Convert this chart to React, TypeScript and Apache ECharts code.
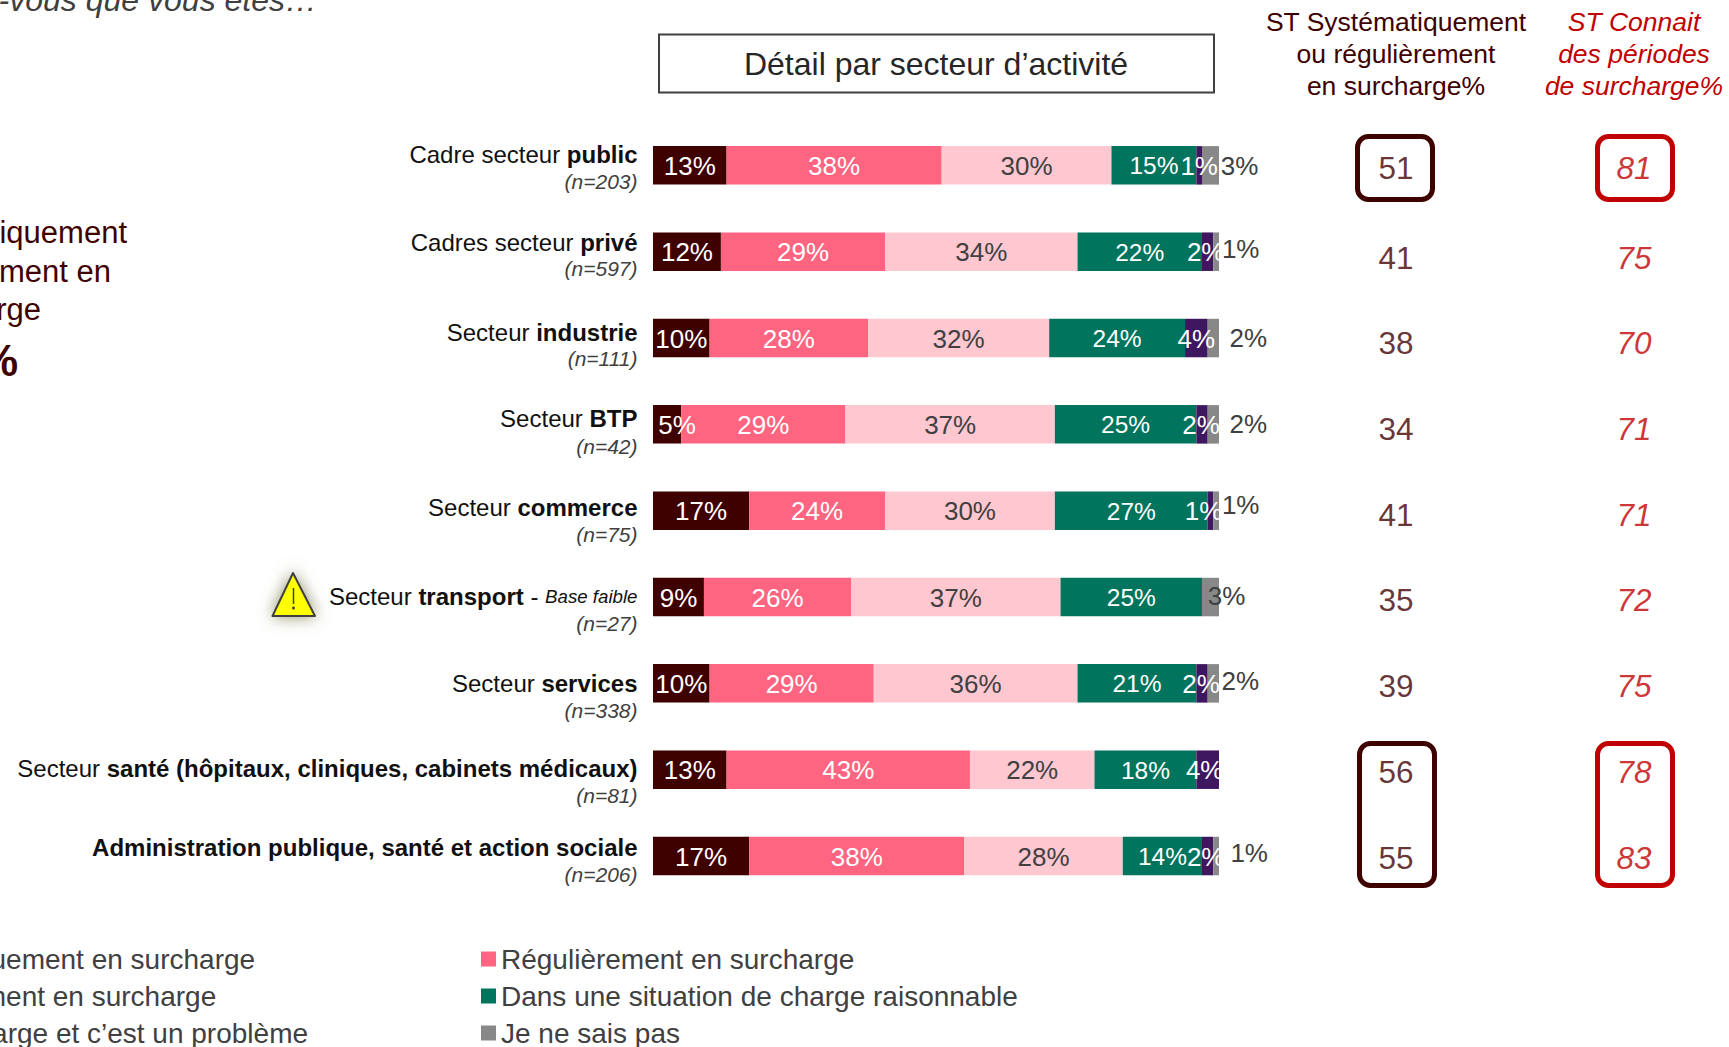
import React, { useEffect, useRef } from "react";
import * as echarts from "echarts";

const FONT = "'Liberation Sans', Arial, sans-serif";

const categoryLeads = ["Cadre secteur ", "Cadres secteur ", "Secteur ", "Secteur ", "Secteur ", "Secteur ", "Secteur ", "Secteur ", ""];
const categoryBolds = ["public", "privé", "industrie", "BTP", "commerce", "transport", "services", "santé (hôpitaux, cliniques, cabinets médicaux)", "Administration publique, santé et action sociale"];
const categoryBases = ["(n=203)", "(n=597)", "(n=111)", "(n=42)", "(n=75)", "(n=27)", "(n=338)", "(n=81)", "(n=206)"];
const categories = categoryBolds.map((b, i) => categoryLeads[i] + b);

const seriesNames = [
  "Systématiquement en surcharge",
  "Régulièrement en surcharge",
  "Ponctuellement en surcharge",
  "Dans une situation de charge raisonnable",
  "En sous-charge et c’est un problème",
  "Je ne sais pas",
];
const systematique = [13, 12, 10, 5, 17, 9, 10, 13, 17];
const regulier = [38, 29, 28, 29, 24, 26, 29, 43, 38];
const ponctuel = [30, 34, 32, 37, 30, 37, 36, 22, 28];
const raisonnable = [15, 22, 24, 25, 27, 25, 21, 18, 14];
const sousCharge = [1, 2, 4, 2, 1, null, 2, 4, 2];
const neSaisPas = [3, 1, 2, 2, 1, 3, 2, null, 1];

const headerSurcharge = ["ST Systématiquement", "ou régulièrement", "en surcharge%"];
const headerPeriodes = ["ST Connait", "des périodes", "de surcharge%"];
const stSurcharge = [51, 41, 38, 34, 41, 35, 39, 56, 55];
const stPeriodes = [81, 75, 70, 71, 71, 72, 75, 78, 83];

const seriesColors = ["#3f0000", "#ff6480", "#ffc7d0", "#00745c", "#3e1760", "#888888"];
const labelColors = ["#ffffff", "#ffffff", "#404040", "#ffffff", "#ffffff", "#404040"];
const labelSizes = [26, 26, 26, 24.5, 26, 26];
// label nudges in pixels, per series then per row
const darkShift = [[0, 0], [0, 0], [0, 0], [10, 0], [0, 0], [0, 0], [0, 0], [0, 0], [0, 0]];
const purpleShift = [[0, 0], [-2, 0], [0, 0], [-1, 0], [-7, 0], [0, 0], [-1, 0], [-3, 0], [-2, 0]];
const grayShift = [[29, 0], [24.5, -3], [35, -1], [35, -1], [24.5, -6], [16, -2], [27, -3], [0, 0], [33, -4]];
// distance from the row centre to each line of the axis label
const line1Offset = [11, 9, 6, 5.5, 3.3, 0.5, 0, 1.5, 8.3];
const line2Offset = [16.5, 17, 20.4, 22, 23.7, 26, 27.6, 26, 18.2];

const allSeries = [systematique, regulier, ponctuel, raisonnable, sousCharge, neSaisPas];
const shifts: Record<number, number[][]> = { 0: darkShift, 4: purpleShift, 5: grayShift };

function buildOption() {
  const rich: Record<string, any> = {};
  categories.forEach((_, i) => {
    const firstLine = 2 * line2Offset[i];
    const secondLine = 2 * line1Offset[i];
    rich[`a${i}`] = { fontFamily: FONT, fontSize: 24, color: "#111111", lineHeight: firstLine };
    rich[`b${i}`] = { fontFamily: FONT, fontSize: 24, fontWeight: "bold", color: "#111111", lineHeight: firstLine };
    rich[`i${i}`] = { fontFamily: FONT, fontSize: 18.7, fontStyle: "italic", color: "#111111", lineHeight: firstLine };
    rich[`n${i}`] = { fontFamily: FONT, fontSize: 21, fontStyle: "italic", color: "#404040", lineHeight: secondLine };
  });

  const bars = allSeries.map((values, s) => ({
    type: "bar",
    name: seriesNames[s],
    stack: "total",
    barWidth: 38.5,
    xAxisIndex: 0,
    yAxisIndex: 0,
    itemStyle: { color: seriesColors[s] },
    data: values.map((v, r) => {
      const shift = shifts[s] ? shifts[s][r] : [0, 0];
      return { value: v, label: { offset: [shift[0], shift[1] + 0.5] } };
    }),
    label: {
      show: true,
      position: "inside",
      formatter: (p: any) => (p.value == null ? "" : `${p.value}%`),
      color: labelColors[s],
      fontFamily: FONT,
      fontSize: labelSizes[s],
      textBorderWidth: 0,
    },
    z: 2,
  }));

  const columnSeries = [stSurcharge, stPeriodes].map((values, c) => ({
    type: "scatter",
    name: c === 0 ? "ST surcharge" : "ST périodes",
    xAxisIndex: 1,
    yAxisIndex: 1,
    symbolSize: 1,
    itemStyle: { color: "transparent" },
    data: values.map((v, r) => ({
      value: [c, r, v],
      label: r === 0 ? { offset: [0, -3.5] } : undefined,
    })),
    label: {
      show: true,
      position: "inside",
      formatter: (p: any) => String(p.value[2]),
      color: c === 0 ? "#3f0000" : "#c00000",
      fontStyle: c === 0 ? "normal" : "italic",
      fontFamily: FONT,
      fontSize: 31.5,
    },
    z: 3,
  }));

  const legendBase = {
    orient: "vertical",
    icon: "rect",
    itemWidth: 15,
    itemHeight: 15,
    itemGap: 9,
    padding: 0,
    height: 140,
    selectedMode: false,
    textStyle: { color: "#404040", fontFamily: FONT, fontSize: 28 },
  };

  const textEl = (text: string, x: number, y: number, style: any) => ({
    type: "text",
    x,
    y,
    silent: true,
    style: { text, fontFamily: FONT, verticalAlign: "middle", ...style },
  });
  const frame = (x: number, y: number, w: number, h: number, color: string) => ({
    type: "rect",
    silent: true,
    shape: { x, y, width: w, height: h, r: 11 },
    style: { fill: "transparent", stroke: color, lineWidth: 5 },
    z: 5,
  });

  return {
    animation: false,
    backgroundColor: "#ffffff",
    grid: [
      { left: 653, top: 122.2, width: 566, height: 777 },
      { left: 1396, top: 128.9, width: 238, height: 771.6 },
    ],
    xAxis: [
      { type: "value", gridIndex: 0, min: 0, max: 100, show: false },
      {
        type: "category",
        gridIndex: 1,
        position: "top",
        boundaryGap: false,
        data: [headerSurcharge.join(" "), headerPeriodes.join(" ")],
        axisLine: { show: false },
        axisTick: { show: false },
        splitLine: { show: false },
        axisLabel: {
          interval: 0,
          margin: 27,
          hideOverlap: false,
          fontFamily: FONT,
          formatter: (_: string, i: number) => {
            const lines = i === 0 ? headerSurcharge : headerPeriodes;
            return lines.map((l) => `{h${i}|${l}}`).join("\n");
          },
          rich: {
            h0: { fontFamily: FONT, fontSize: 26.5, color: "#3f0000", lineHeight: 32 },
            h1: { fontFamily: FONT, fontSize: 26.5, fontStyle: "italic", color: "#c00000", lineHeight: 32 },
          },
        },
      },
    ],
    yAxis: [
      {
        type: "category",
        gridIndex: 0,
        inverse: true,
        data: categories,
        axisLine: { show: false },
        axisTick: { show: false },
        axisLabel: {
          interval: 0,
          margin: 15.5,
          align: "right",
          fontFamily: FONT,
          formatter: (_: string, i: number) => {
            let first = "";
            if (categoryLeads[i]) first += `{a${i}|${categoryLeads[i]}}`;
            first += `{b${i}|${categoryBolds[i]}}`;
            if (i === 5) first += `{a${i}| - }{i${i}|Base faible}`;
            return `${first}\n{n${i}|${categoryBases[i]}}`;
          },
          rich,
        },
      },
      {
        type: "category",
        gridIndex: 1,
        inverse: true,
        data: categories,
        show: false,
      },
    ],
    legend: [
      { ...legendBase, left: 481, top: 945, data: [seriesNames[1], seriesNames[3], seriesNames[5]] },
      { ...legendBase, left: -168, top: 945, data: [seriesNames[0], seriesNames[2], seriesNames[4]] },
    ],
    series: [...bars, ...columnSeries],
    graphic: [
      {
        type: "rect",
        silent: true,
        shape: { x: 659, y: 34.5, width: 555, height: 58 },
        style: { fill: "#ffffff", stroke: "#404040", lineWidth: 2 },
      },
      textEl("Détail par secteur d’activité", 936, 64, { fontSize: 32, fill: "#262626", align: "center" }),
      textEl("-vous que vous êtes…", 317, 0, { fontSize: 32, fontStyle: "italic", fill: "#404040", align: "right" }),
      textEl("iquement", 127, 232, { fontSize: 31, fill: "#3f0000", align: "right" }),
      textEl("ment en", 111, 271, { fontSize: 31, fill: "#3f0000", align: "right" }),
      textEl("rge", 41, 309, { fontSize: 31, fill: "#3f0000", align: "right" }),
      textEl("%", 18, 360, { fontSize: 44, fontWeight: "bold", fill: "#3f0000", align: "right" }),
      frame(1357.5, 136.5, 75, 63, "#3f0000"),
      frame(1597.5, 136.5, 75, 63, "#c00000"),
      frame(1359.5, 743.5, 75, 142, "#3f0000"),
      frame(1597.5, 743.5, 75, 142, "#c00000"),
      {
        type: "polygon",
        silent: true,
        shape: { points: [[293, 573], [272.5, 616], [315, 616]] },
        style: {
          fill: "#ffff00",
          stroke: "#404040",
          lineWidth: 2,
          lineJoin: "round",
          shadowBlur: 16,
          shadowColor: "rgba(120,120,70,0.8)",
        },
      },
      {
        type: "line",
        silent: true,
        shape: { x1: 293.5, y1: 588, x2: 293.5, y2: 604 },
        style: { stroke: "#404040", lineWidth: 1.5 },
      },
      {
        type: "circle",
        silent: true,
        shape: { cx: 293.5, cy: 608, r: 1.5 },
        style: { fill: "#404040" },
      },
    ],
  };
}

export default function App() {
  const ref = useRef<HTMLDivElement>(null);
  useEffect(() => {
    document.body.style.margin = "0";
    const chart = echarts.init(ref.current!, undefined, { renderer: "svg" });
    chart.setOption(buildOption() as any);
    return () => chart.dispose();
  }, []);
  return <div ref={ref} style={{ position: "absolute", left: 0, top: 0, width: 1729, height: 1047 }} />;
}
